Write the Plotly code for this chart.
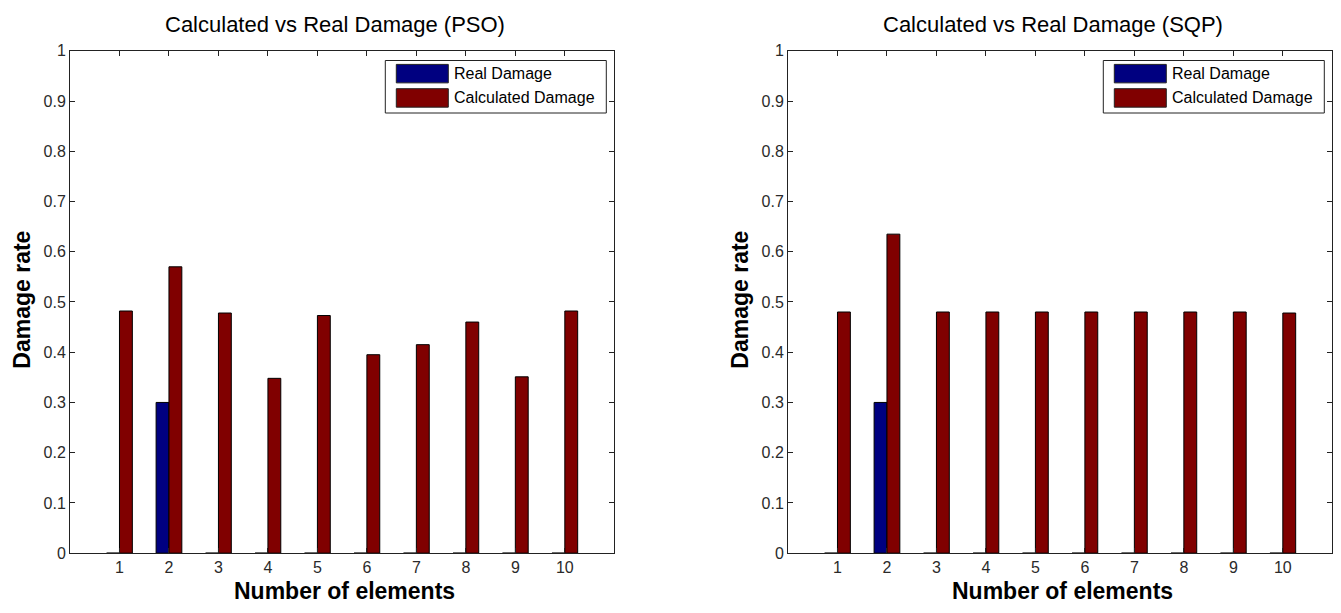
import plotly.graph_objects as go

# Element numbers and damage rates
elements = [1, 2, 3, 4, 5, 6, 7, 8, 9, 10]
real_damage = [0, 0.30, 0, 0, 0, 0, 0, 0, 0, 0]
calc_pso = [0.482, 0.570, 0.478, 0.348, 0.473, 0.395, 0.415, 0.460, 0.351, 0.482]
calc_sqp = [0.480, 0.635, 0.480, 0.480, 0.480, 0.480, 0.480, 0.480, 0.480, 0.478]
series_names = ["Real Damage", "Calculated Damage"]
panel_titles = ["Calculated vs Real Damage (PSO)", "Calculated vs Real Damage (SQP)"]
y_ticks = [0, 0.1, 0.2, 0.3, 0.4, 0.5, 0.6, 0.7, 0.8, 0.9, 1]
y_tick_text = ["0", "0.1", "0.2", "0.3", "0.4", "0.5", "0.6", "0.7", "0.8", "0.9", "1"]

W, H = 1341, 613
BLUE = "#000080"
RED = "#800000"
FONT = "Liberation Sans, Arial, sans-serif"


def px(x):
    return x / W


def py(y):
    return 1 - y / H


fig = go.Figure()

panels = [("x", "y", calc_pso), ("x2", "y2", calc_sqp)]
for xa, ya, calc in panels:
    fig.add_trace(go.Bar(x=elements, y=real_damage, name=series_names[0],
                         marker=dict(color=BLUE, line=dict(color="black", width=1)),
                         xaxis=xa, yaxis=ya, showlegend=False))
    fig.add_trace(go.Bar(x=elements, y=calc, name=series_names[1],
                         marker=dict(color=RED, line=dict(color="black", width=1)),
                         xaxis=xa, yaxis=ya, showlegend=False))

# Axis frames in pixels: (left, right) for each panel, shared top/bottom
frames = [(70, 614.3), (788, 1332.3)]
top, bottom = 44, 560.7

axis_common = dict(showline=True, linecolor="#222", linewidth=1, mirror="allticks",
                   ticks="inside", ticklen=5, tickcolor="#222", showgrid=False,
                   zeroline=False, tickfont=dict(family=FONT, size=16, color="#2a2a2a"))

layout = dict(width=W, height=H, margin=dict(l=0, r=0, t=0, b=0, pad=0),
              paper_bgcolor="white", plot_bgcolor="white",
              barmode="group", bargap=0.48, bargroupgap=0, showlegend=False)

for i, (l, r) in enumerate(frames):
    sx = "" if i == 0 else str(i + 1)
    layout["xaxis" + sx] = dict(domain=[px(l), px(r)], range=[0, 11],
                                tickvals=elements, ticktext=[str(e) for e in elements],
                                anchor="y" + sx, **axis_common)
    layout["yaxis" + sx] = dict(domain=[py(bottom), py(top)], range=[0, 1],
                                tickvals=y_ticks, ticktext=y_tick_text,
                                anchor="x" + sx, **axis_common)

fig.update_layout(**layout)

annotations = []
shapes = []
for i, (l, r) in enumerate(frames):
    cx = (l + r) / 2
    annotations.append(dict(text=panel_titles[i], x=px(cx - 7), y=py(17), xref="paper", yref="paper",
                            showarrow=False, xanchor="center", yanchor="middle",
                            font=dict(family=FONT, size=22, color="black")))
    annotations.append(dict(text="<b>Number of elements</b>", x=px(cx + 2), y=py(600), xref="paper",
                            yref="paper", showarrow=False, xanchor="center", yanchor="middle",
                            font=dict(family=FONT, size=23, color="black")))
    annotations.append(dict(text="<b>Damage rate</b>", x=px(l - 48), y=py(300), xref="paper",
                            yref="paper", showarrow=False, xanchor="center", yanchor="middle",
                            textangle=-90, font=dict(family=FONT, size=23, color="black")))

    # legend box with wide colour swatches
    lr = r - 8
    ll = lr - 221
    shapes.append(dict(type="rect", xref="paper", yref="paper", x0=px(ll), x1=px(lr),
                       y0=py(108), y1=py(54), line=dict(color="#222", width=1),
                       fillcolor="white", layer="above"))
    for j, (color, y0, y1) in enumerate([(BLUE, 58, 77), (RED, 83, 102)]):
        shapes.append(dict(type="rect", xref="paper", yref="paper", x0=px(ll + 11), x1=px(ll + 63),
                           y0=py(y1), y1=py(y0), line=dict(color="#222", width=1),
                           fillcolor=color, layer="above"))
        annotations.append(dict(text=series_names[j], x=px(ll + 67), y=py((y0 + y1) / 2),
                                xref="paper", yref="paper", showarrow=False,
                                xanchor="left", yanchor="middle",
                                font=dict(family=FONT, size=16, color="black")))

fig.update_layout(annotations=annotations, shapes=shapes)
fig.write_html("out.html")
